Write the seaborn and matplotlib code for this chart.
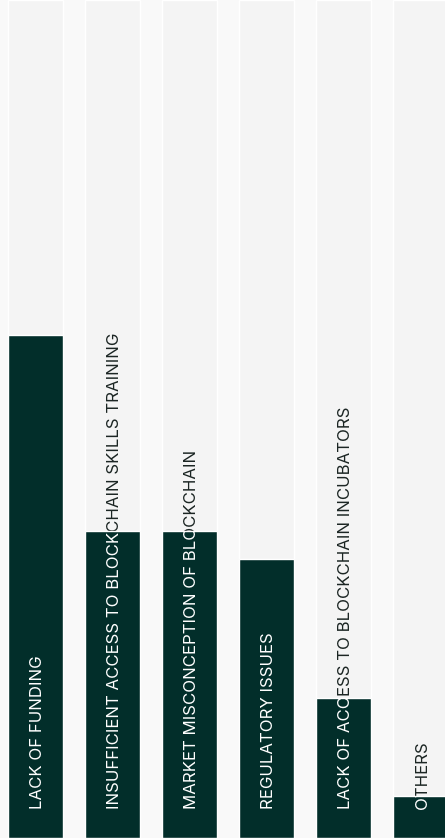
import matplotlib
matplotlib.use("Agg")
import matplotlib.pyplot as plt
from matplotlib.transforms import TransformedBbox
import seaborn as sns

# barriers to blockchain adoption (share of respondents, %)
categories = [
    "LACK OF FUNDING",
    "INSUFFICIENT ACCESS TO BLOCKCHAIN SKILLS TRAINING",
    "MARKET MISCONCEPTION OF BLOCKCHAIN",
    "REGULATORY ISSUES",
    "LACK OF ACCESS TO BLOCKCHAIN INCUBATORS",
    "OTHERS",
]
values = [36, 22, 22, 20, 10, 3]
y_max = 60

bar_color = "#022e2a"
column_color = "#f4f4f4"
bg_color = "#f9f9f9"
text_dark = "#1b2523"

sns.set_style("white")
plt.rcParams["font.family"] = ["Inter", "DejaVu Sans"]

fig = plt.figure(figsize=(4.45, 8.38), dpi=100)
fig.patch.set_facecolor(bg_color)
ax = fig.add_axes([0, 0, 1, 1])
ax.set_facecolor(bg_color)

sns.barplot(x=categories, y=values, color=bar_color, width=0.714,
            saturation=1, ax=ax, zorder=1)
bars = list(ax.patches)

# pale full-height columns behind each bar
ax.bar(range(len(categories)), [y_max] * len(categories), width=0.714,
       color=column_color, zorder=0)

ax.set_xlim(-0.461, 5.318)
ax.set_ylim(0, y_max)
ax.axis("off")

for i, (label, bar) in enumerate(zip(categories, bars)):
    # dark copy sits under the bar, white copy only shows inside it
    ax.text(i + 0.02, 2.1, label, rotation=90, ha="center", va="bottom",
            fontsize=12.1, color=text_dark, zorder=0.5)
    t = ax.text(i + 0.02, 2.1, label, rotation=90, ha="center", va="bottom",
                fontsize=12.1, color="white", zorder=2)
    t.set_clip_on(True)
    t.set_clip_box(TransformedBbox(bar.get_bbox(), ax.transData))

fig.savefig("out.png", dpi=100, facecolor=bg_color)
